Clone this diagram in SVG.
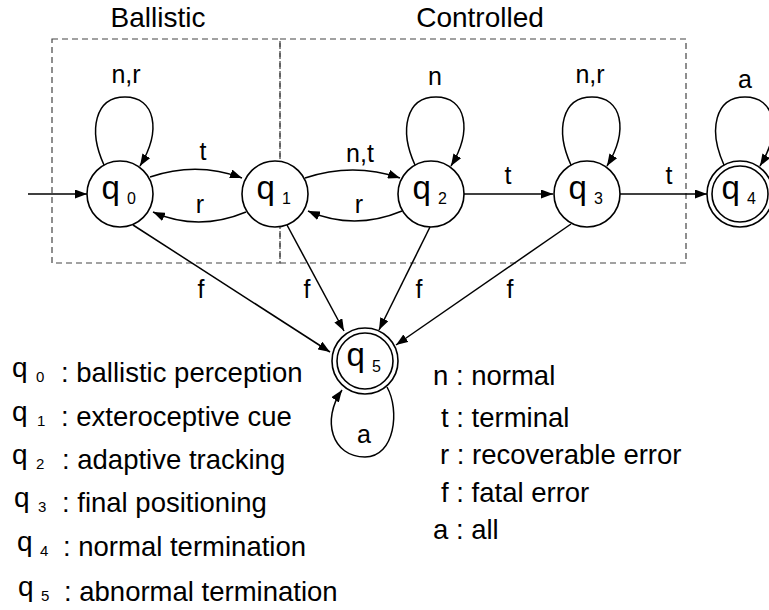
<svg xmlns="http://www.w3.org/2000/svg" width="769" height="610" viewBox="0 0 769 610">
  <defs>
    <marker id="arrow" viewBox="0 0 12 9" refX="12" refY="4.5" markerWidth="12" markerHeight="9" markerUnits="userSpaceOnUse" orient="auto">
      <path d="M0,0 L12,4.5 L0,9 z" fill="#000"/>
    </marker>
    <style>
      text { font-family: "Liberation Sans", Arial, Helvetica, sans-serif; fill: #000; }
      .region { fill: none; stroke: #444; stroke-width: 1.2; stroke-dasharray: 6 4; }
      .title { font-size: 28px; text-anchor: middle; }
      .state { fill: #fff; stroke: #000; stroke-width: 1.6; }
      .q { font-size: 33px; }
      .sub { font-size: 16px; }
      .edge { fill: none; stroke: #000; stroke-width: 1.5; marker-end: url(#arrow); }
      .lbl { font-size: 25px; text-anchor: middle; }
      .legend { font-size: 27.5px; }
      .lq { font-size: 28px; }
      .lsub { font-size: 15px; }
    </style>
  </defs>

  <!-- phase regions -->
  <g id="regions">
    <rect class="region" x="52" y="39" width="228" height="224"/>
    <rect class="region" x="280" y="39" width="406" height="224"/>
    <text class="title" x="158" y="27">Ballistic</text>
    <text class="title" x="480" y="27">Controlled</text>
  </g>

  <!-- transitions -->
  <g id="connectors">
    <line class="edge" x1="28" y1="194" x2="87" y2="194"/>
    <!-- self loops -->
    <path class="edge" d="M104,165 C88,130 95,97 125,97 C155,97 162,130 140,166"/>
    <path class="edge" d="M415,165 C399,130 406,97 436,97 C466,97 473,130 451,166"/>
    <path class="edge" d="M571,165 C555,130 562,97 592,97 C622,97 629,130 607,166"/>
    <path class="edge" d="M724,165 C708,130 715,97 745,97 C775,97 782,130 760,166"/>
    <path class="edge" d="M387,387 C400,410 395,457 365,457 C332,457 321,420 342,390"/>
    <!-- between states -->
    <path class="edge" d="M150,177 Q197,161 242,178"/>
    <path class="edge" d="M246,212 Q198,232 153,212"/>
    <path class="edge" d="M305,178 Q353,162 400,178"/>
    <path class="edge" d="M402,211 Q354,231 308,211"/>
    <line class="edge" x1="464" y1="194" x2="553" y2="194"/>
    <line class="edge" x1="620" y1="194" x2="707" y2="194"/>
    <!-- fatal errors -->
    <line class="edge" x1="133" y1="225" x2="330" y2="352"/>
    <line class="edge" x1="287" y1="225" x2="344" y2="331"/>
    <line class="edge" x1="430" y1="227" x2="379" y2="330"/>
    <line class="edge" x1="571" y1="224" x2="396" y2="345"/>
  </g>

  <!-- transition labels -->
  <g id="labels">
    <text class="lbl" x="126" y="83">n,r</text>
    <text class="lbl" x="435" y="85">n</text>
    <text class="lbl" x="590" y="83">n,r</text>
    <text class="lbl" x="745" y="88">a</text>
    <text class="lbl" x="203" y="160">t</text>
    <text class="lbl" x="200" y="213">r</text>
    <text class="lbl" x="360" y="162">n,t</text>
    <text class="lbl" x="359" y="213">r</text>
    <text class="lbl" x="508" y="184">t</text>
    <text class="lbl" x="669" y="184">t</text>
    <text class="lbl" x="201" y="298">f</text>
    <text class="lbl" x="307" y="298">f</text>
    <text class="lbl" x="419" y="298">f</text>
    <text class="lbl" x="510" y="298">f</text>
    <text class="lbl" x="364" y="443">a</text>
  </g>

  <!-- states -->
  <g id="q0">
    <circle class="state" cx="120" cy="194" r="33"/>
    <text class="q" x="101.5" y="199">q</text><text class="sub" x="127" y="204">0</text>
  </g>
  <g id="q1">
    <circle class="state" cx="275" cy="194" r="33"/>
    <text class="q" x="256.5" y="199">q</text><text class="sub" x="282" y="204">1</text>
  </g>
  <g id="q2">
    <circle class="state" cx="431" cy="194" r="33"/>
    <text class="q" x="412.5" y="199">q</text><text class="sub" x="438" y="204">2</text>
  </g>
  <g id="q3">
    <circle class="state" cx="587" cy="194" r="33"/>
    <text class="q" x="568.5" y="199">q</text><text class="sub" x="594" y="204">3</text>
  </g>
  <g id="q4">
    <circle class="state" cx="740" cy="194" r="33"/>
    <circle class="state" cx="740" cy="194" r="28"/>
    <text class="q" x="721.5" y="199">q</text><text class="sub" x="747" y="204">4</text>
  </g>
  <g id="q5">
    <circle class="state" cx="365" cy="361" r="33"/>
    <circle class="state" cx="365" cy="361" r="28"/>
    <text class="q" x="346.5" y="366">q</text><text class="sub" x="372" y="372">5</text>
  </g>

  <!-- state legend -->
  <g id="state-legend">
    <text class="lq" x="12" y="377">q</text><text class="lsub" x="36" y="382">0</text><text class="legend" x="61" y="382">: ballistic perception</text>
    <text class="lq" x="12" y="421">q</text><text class="lsub" x="37" y="426">1</text><text class="legend" x="61" y="426">: exteroceptive cue</text>
    <text class="lq" x="12" y="464">q</text><text class="lsub" x="36" y="469">2</text><text class="legend" x="62" y="469">: adaptive tracking</text>
    <text class="lq" x="14" y="507">q</text><text class="lsub" x="38" y="512">3</text><text class="legend" x="62" y="512">: final positioning</text>
    <text class="lq" x="17" y="551">q</text><text class="lsub" x="40" y="556">4</text><text class="legend" x="63" y="556">: normal termination</text>
    <text class="lq" x="18" y="596">q</text><text class="lsub" x="41" y="601">5</text><text class="legend" x="64" y="601">: abnormal termination</text>
  </g>

  <!-- event legend -->
  <g id="event-legend">
    <text class="legend" x="433" y="385">n : normal</text>
    <text class="legend" x="441" y="427">t : terminal</text>
    <text class="legend" x="440" y="464">r : recoverable error</text>
    <text class="legend" x="441" y="502">f : fatal error</text>
    <text class="legend" x="433" y="539">a : all</text>
  </g>
</svg>
